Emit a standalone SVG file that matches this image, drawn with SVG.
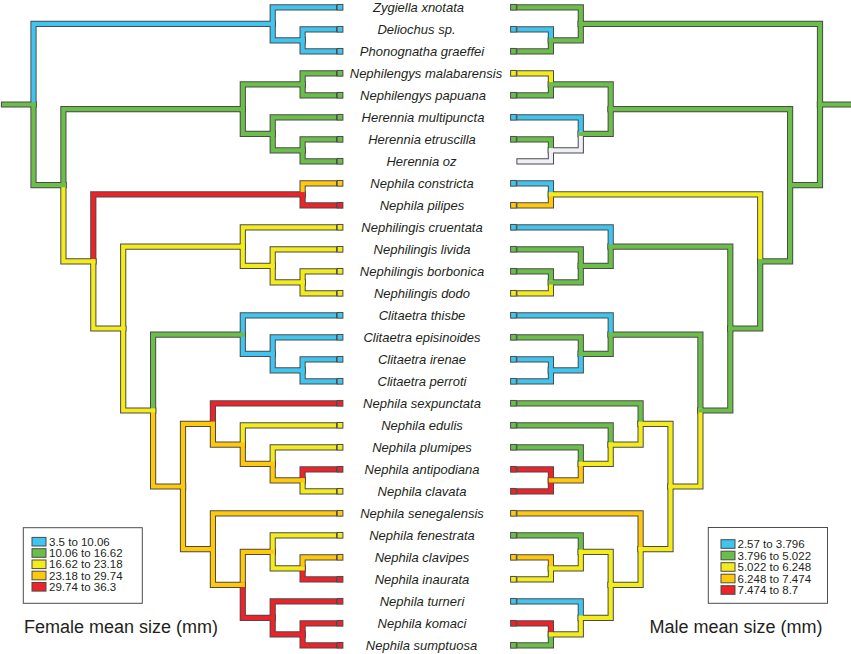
<svg xmlns="http://www.w3.org/2000/svg" xmlns:xlink="http://www.w3.org/1999/xlink" width="851" height="654" viewBox="0 0 851 654">
<style>
.ol{fill:none;stroke:#4a4a4a;stroke-width:6.2;stroke-linecap:square;stroke-linejoin:miter}
.c{fill:none;stroke-width:4.2;stroke-linecap:square;stroke-linejoin:miter}
.bl{stroke:#3fc5f0}.gr{stroke:#6cbe4a}.ye{stroke:#f4eb1a}.or{stroke:#ffc80a}.re{stroke:#ee2229}.wh{stroke:#eef0f6}
.s{stroke:#4a4a4a;stroke-width:1}
.fb{fill:#3fc5f0}.fg{fill:#6cbe4a}.fy{fill:#f4eb1a}.fo{fill:#ffc80a}.fr{fill:#ee2229}
.lab{font-family:"Liberation Sans",Arial,sans-serif;font-style:italic;font-size:13px;fill:#231f20;text-anchor:middle}
.leg{font-family:"Liberation Sans",Arial,sans-serif;font-size:11.5px;fill:#231f20}
.ttl{font-family:"Liberation Sans",Arial,sans-serif;font-size:18px;fill:#231f20}
.box{fill:#fff;stroke:#4d4d4d;stroke-width:1}
</style>
<defs>
<g id="tree">
<path id="b-root" d="M4 104.5H33.5"/>
<path id="b-A" d="M33.5 104.5V23.8H272.7"/>
<path id="b-Zyg" d="M272.7 23.8V7.3H334"/>
<path id="b-DP" d="M272.7 23.8V40.3H302.6"/>
<path id="b-Delio" d="M302.6 40.3V29.3H334"/>
<path id="b-Phono" d="M302.6 40.3V51.3H334"/>
<path id="b-N2" d="M33.5 104.5V185.2H63.4"/>
<path id="b-NH" d="M63.4 185.2V109.1H242.8"/>
<path id="b-NL" d="M242.8 109.1V84.3H302.6"/>
<path id="b-Nmal" d="M302.6 84.3V73.3H334"/>
<path id="b-Npap" d="M302.6 84.3V95.3H334"/>
<path id="b-HE" d="M242.8 109.1V133.8H272.7"/>
<path id="b-Hmult" d="M272.7 133.8V117.3H334"/>
<path id="b-HEO" d="M272.7 133.8V150.3H302.6"/>
<path id="b-Hetr" d="M302.6 150.3V139.3H334"/>
<path id="b-Hoz" d="M302.6 150.3V161.3H334"/>
<path id="b-R2" d="M63.4 185.2V261.4H93.3"/>
<path id="b-CP" d="M93.3 261.4V194.3H302.6"/>
<path id="b-constricta" d="M302.6 194.3V183.3H334"/>
<path id="b-pilipes" d="M302.6 194.3V205.3H334"/>
<path id="b-R3" d="M93.3 261.4V328.5H123.2"/>
<path id="b-NG" d="M123.2 328.5V246.6H242.8"/>
<path id="b-cruentata" d="M242.8 246.6V227.3H334"/>
<path id="b-NG2" d="M242.8 246.6V265.8H272.7"/>
<path id="b-livida" d="M272.7 265.8V249.3H334"/>
<path id="b-NG3" d="M272.7 265.8V282.3H302.6"/>
<path id="b-borbonica" d="M302.6 282.3V271.3H334"/>
<path id="b-dodo" d="M302.6 282.3V293.3H334"/>
<path id="b-CN" d="M123.2 328.5V410.5H153.1"/>
<path id="b-CL" d="M153.1 410.5V334.6H242.8"/>
<path id="b-thisbe" d="M242.8 334.6V315.3H334"/>
<path id="b-CL2" d="M242.8 334.6V353.8H272.7"/>
<path id="b-episinoides" d="M272.7 353.8V337.3H334"/>
<path id="b-CL3" d="M272.7 353.8V370.3H302.6"/>
<path id="b-irenae" d="M302.6 370.3V359.3H334"/>
<path id="b-perroti" d="M302.6 370.3V381.3H334"/>
<path id="b-NB" d="M153.1 410.5V486.5H183"/>
<path id="b-NS" d="M183 486.5V423.9H212.9"/>
<path id="b-sexpunctata" d="M212.9 423.9V403.3H334"/>
<path id="b-NS2" d="M212.9 423.9V444.6H242.8"/>
<path id="b-edulis" d="M242.8 444.6V425.3H334"/>
<path id="b-NS3" d="M242.8 444.6V463.8H272.7"/>
<path id="b-plumipes" d="M272.7 463.8V447.3H334"/>
<path id="b-AC" d="M272.7 463.8V480.3H302.6"/>
<path id="b-antipodiana" d="M302.6 480.3V469.3H334"/>
<path id="b-clavata" d="M302.6 480.3V491.3H334"/>
<path id="b-NF" d="M183 486.5V549.1H212.9"/>
<path id="b-senegalensis" d="M212.9 549.1V513.3H334"/>
<path id="b-NF2" d="M212.9 549.1V584.8H242.8"/>
<path id="b-NF3" d="M242.8 584.8V551.8H272.7"/>
<path id="b-fenestrata" d="M272.7 551.8V535.3H334"/>
<path id="b-NF4" d="M272.7 551.8V568.3H302.6"/>
<path id="b-clavipes" d="M302.6 568.3V557.3H334"/>
<path id="b-inaurata" d="M302.6 568.3V579.3H334"/>
<path id="b-NF5" d="M242.8 584.8V617.8H272.7"/>
<path id="b-turneri" d="M272.7 617.8V601.3H334"/>
<path id="b-NF6" d="M272.7 617.8V634.3H302.6"/>
<path id="b-komaci" d="M302.6 634.3V623.3H334"/>
<path id="b-sumptuosa" d="M302.6 634.3V645.3H334"/>
</g>
</defs>
<g id="connectors">
<g id="female-tree">
<use href="#tree" class="ol"/>
<use href="#b-Zyg" class="c bl"/><use href="#b-Delio" class="c bl"/><use href="#b-Phono" class="c bl"/><use href="#b-DP" class="c bl"/><use href="#b-A" class="c bl"/>
<use href="#b-Nmal" class="c gr"/><use href="#b-Npap" class="c gr"/><use href="#b-NL" class="c gr"/><use href="#b-Hmult" class="c gr"/><use href="#b-Hetr" class="c gr"/><use href="#b-Hoz" class="c gr"/><use href="#b-HEO" class="c gr"/><use href="#b-HE" class="c gr"/><use href="#b-NH" class="c gr"/>
<use href="#b-constricta" class="c or"/><use href="#b-pilipes" class="c re"/><use href="#b-CP" class="c re"/>
<use href="#b-cruentata" class="c ye"/><use href="#b-livida" class="c ye"/><use href="#b-borbonica" class="c ye"/><use href="#b-dodo" class="c ye"/><use href="#b-NG3" class="c ye"/><use href="#b-NG2" class="c ye"/><use href="#b-NG" class="c ye"/>
<use href="#b-thisbe" class="c bl"/><use href="#b-episinoides" class="c bl"/><use href="#b-irenae" class="c bl"/><use href="#b-perroti" class="c bl"/><use href="#b-CL3" class="c bl"/><use href="#b-CL2" class="c bl"/><use href="#b-CL" class="c gr"/>
<use href="#b-sexpunctata" class="c re"/><use href="#b-edulis" class="c ye"/><use href="#b-plumipes" class="c ye"/><use href="#b-antipodiana" class="c re"/><use href="#b-clavata" class="c ye"/><use href="#b-AC" class="c or"/><use href="#b-NS3" class="c or"/><use href="#b-NS2" class="c or"/><use href="#b-NS" class="c or"/>
<use href="#b-senegalensis" class="c or"/><use href="#b-fenestrata" class="c ye"/><use href="#b-clavipes" class="c or"/><use href="#b-inaurata" class="c re"/><use href="#b-NF4" class="c ye"/><use href="#b-NF3" class="c or"/><use href="#b-turneri" class="c re"/><use href="#b-komaci" class="c re"/><use href="#b-sumptuosa" class="c re"/><use href="#b-NF6" class="c re"/><use href="#b-NF5" class="c re"/><use href="#b-NF2" class="c or"/><use href="#b-NF" class="c or"/>
<use href="#b-NB" class="c or"/><use href="#b-CN" class="c ye"/><use href="#b-R3" class="c ye"/><use href="#b-R2" class="c ye"/><use href="#b-N2" class="c gr"/><use href="#b-root" class="c gr"/>
</g>
<g id="male-tree" transform="matrix(-1 0 0 1 853.5 0)">
<use href="#tree" class="ol"/>
<use href="#b-Zyg" class="c gr"/><use href="#b-Delio" class="c bl"/><use href="#b-Phono" class="c gr"/><use href="#b-DP" class="c gr"/><use href="#b-A" class="c gr"/>
<use href="#b-Nmal" class="c ye"/><use href="#b-Npap" class="c gr"/><use href="#b-NL" class="c gr"/><use href="#b-Hmult" class="c bl"/><use href="#b-Hetr" class="c gr"/><use href="#b-Hoz" class="c wh"/><use href="#b-HEO" class="c wh"/><use href="#b-HE" class="c gr"/><use href="#b-NH" class="c gr"/>
<use href="#b-constricta" class="c bl"/><use href="#b-pilipes" class="c or"/><use href="#b-CP" class="c ye"/>
<use href="#b-cruentata" class="c bl"/><use href="#b-livida" class="c gr"/><use href="#b-borbonica" class="c gr"/><use href="#b-dodo" class="c ye"/><use href="#b-NG3" class="c gr"/><use href="#b-NG2" class="c gr"/><use href="#b-NG" class="c gr"/>
<use href="#b-thisbe" class="c bl"/><use href="#b-episinoides" class="c gr"/><use href="#b-irenae" class="c bl"/><use href="#b-perroti" class="c bl"/><use href="#b-CL3" class="c bl"/><use href="#b-CL2" class="c gr"/><use href="#b-CL" class="c gr"/>
<use href="#b-sexpunctata" class="c gr"/><use href="#b-edulis" class="c gr"/><use href="#b-plumipes" class="c gr"/><use href="#b-antipodiana" class="c re"/><use href="#b-clavata" class="c re"/><use href="#b-AC" class="c or"/><use href="#b-NS3" class="c ye"/><use href="#b-NS2" class="c ye"/><use href="#b-NS" class="c ye"/>
<use href="#b-senegalensis" class="c or"/><use href="#b-fenestrata" class="c gr"/><use href="#b-clavipes" class="c or"/><use href="#b-inaurata" class="c ye"/><use href="#b-NF4" class="c ye"/><use href="#b-NF3" class="c ye"/><use href="#b-turneri" class="c bl"/><use href="#b-komaci" class="c re"/><use href="#b-sumptuosa" class="c gr"/><use href="#b-NF6" class="c ye"/><use href="#b-NF5" class="c ye"/><use href="#b-NF2" class="c ye"/><use href="#b-NF" class="c ye"/>
<use href="#b-NB" class="c ye"/><use href="#b-CN" class="c gr"/><use href="#b-R3" class="c gr"/><use href="#b-R2" class="c gr"/><use href="#b-N2" class="c gr"/><use href="#b-root" class="c gr"/>
</g>
</g>
<g id="taxa">
<g id="t-zygiella"><rect class="s fb" x="337.2" y="4.45" width="5.7" height="5.7"/><rect class="s fg" x="510.6" y="4.45" width="5.7" height="5.7"/><text class="lab" x="418.5" y="11.8">Zygiella xnotata</text></g>
<g id="t-deliochus"><rect class="s fb" x="337.2" y="26.45" width="5.7" height="5.7"/><rect class="s fb" x="510.6" y="26.45" width="5.7" height="5.7"/><text class="lab" x="416.5" y="33.8">Deliochus sp.</text></g>
<g id="t-phonognatha"><rect class="s fb" x="337.2" y="48.45" width="5.7" height="5.7"/><rect class="s fg" x="510.6" y="48.45" width="5.7" height="5.7"/><text class="lab" x="422" y="55.8">Phonognatha graeffei</text></g>
<g id="t-nmalabarensis"><rect class="s fg" x="337.2" y="70.45" width="5.7" height="5.7"/><rect class="s fy" x="510.6" y="70.45" width="5.7" height="5.7"/><text class="lab" x="426" y="77.8">Nephilengys malabarensis</text></g>
<g id="t-npapuana"><rect class="s fg" x="337.2" y="92.45" width="5.7" height="5.7"/><rect class="s fg" x="510.6" y="92.45" width="5.7" height="5.7"/><text class="lab" x="423" y="99.8">Nephilengys papuana</text></g>
<g id="t-hmultipuncta"><rect class="s fg" x="337.2" y="114.45" width="5.7" height="5.7"/><rect class="s fb" x="510.6" y="114.45" width="5.7" height="5.7"/><text class="lab" x="423" y="121.8">Herennia multipuncta</text></g>
<g id="t-hetruscilla"><rect class="s fg" x="337.2" y="136.45" width="5.7" height="5.7"/><rect class="s fg" x="510.6" y="136.45" width="5.7" height="5.7"/><text class="lab" x="422" y="143.8">Herennia etruscilla</text></g>
<g id="t-hoz"><rect class="s fg" x="337.2" y="158.45" width="5.7" height="5.7"/><text class="lab" x="421.5" y="165.8">Herennia oz</text></g>
<g id="t-nconstricta"><rect class="s fo" x="337.2" y="180.45" width="5.7" height="5.7"/><rect class="s fb" x="510.6" y="180.45" width="5.7" height="5.7"/><text class="lab" x="422" y="187.8">Nephila constricta</text></g>
<g id="t-npilipes"><rect class="s fr" x="337.2" y="202.45" width="5.7" height="5.7"/><rect class="s fo" x="510.6" y="202.45" width="5.7" height="5.7"/><text class="lab" x="422" y="209.8">Nephila pilipes</text></g>
<g id="t-ncruentata"><rect class="s fy" x="337.2" y="224.45" width="5.7" height="5.7"/><rect class="s fb" x="510.6" y="224.45" width="5.7" height="5.7"/><text class="lab" x="422" y="231.8">Nephilingis cruentata</text></g>
<g id="t-nlivida"><rect class="s fy" x="337.2" y="246.45" width="5.7" height="5.7"/><rect class="s fg" x="510.6" y="246.45" width="5.7" height="5.7"/><text class="lab" x="422" y="253.8">Nephilingis livida</text></g>
<g id="t-nborbonica"><rect class="s fy" x="337.2" y="268.45" width="5.7" height="5.7"/><rect class="s fg" x="510.6" y="268.45" width="5.7" height="5.7"/><text class="lab" x="422" y="275.8">Nephilingis borbonica</text></g>
<g id="t-ndodo"><rect class="s fy" x="337.2" y="290.45" width="5.7" height="5.7"/><rect class="s fy" x="510.6" y="290.45" width="5.7" height="5.7"/><text class="lab" x="422" y="297.8">Nephilingis dodo</text></g>
<g id="t-cthisbe"><rect class="s fb" x="337.2" y="312.45" width="5.7" height="5.7"/><rect class="s fb" x="510.6" y="312.45" width="5.7" height="5.7"/><text class="lab" x="422" y="319.8">Clitaetra thisbe</text></g>
<g id="t-cepisinoides"><rect class="s fb" x="337.2" y="334.45" width="5.7" height="5.7"/><rect class="s fg" x="510.6" y="334.45" width="5.7" height="5.7"/><text class="lab" x="422" y="341.8">Clitaetra episinoides</text></g>
<g id="t-cirenae"><rect class="s fb" x="337.2" y="356.45" width="5.7" height="5.7"/><rect class="s fb" x="510.6" y="356.45" width="5.7" height="5.7"/><text class="lab" x="422" y="363.8">Clitaetra irenae</text></g>
<g id="t-cperroti"><rect class="s fb" x="337.2" y="378.45" width="5.7" height="5.7"/><rect class="s fb" x="510.6" y="378.45" width="5.7" height="5.7"/><text class="lab" x="422" y="385.8">Clitaetra perroti</text></g>
<g id="t-nsexpunctata"><rect class="s fr" x="337.2" y="400.45" width="5.7" height="5.7"/><rect class="s fg" x="510.6" y="400.45" width="5.7" height="5.7"/><text class="lab" x="422" y="407.8">Nephila sexpunctata</text></g>
<g id="t-nedulis"><rect class="s fy" x="337.2" y="422.45" width="5.7" height="5.7"/><rect class="s fg" x="510.6" y="422.45" width="5.7" height="5.7"/><text class="lab" x="422" y="429.8">Nephila edulis</text></g>
<g id="t-nplumipes"><rect class="s fy" x="337.2" y="444.45" width="5.7" height="5.7"/><rect class="s fg" x="510.6" y="444.45" width="5.7" height="5.7"/><text class="lab" x="422" y="451.8">Nephila plumipes</text></g>
<g id="t-nantipodiana"><rect class="s fr" x="337.2" y="466.45" width="5.7" height="5.7"/><rect class="s fr" x="510.6" y="466.45" width="5.7" height="5.7"/><text class="lab" x="422" y="473.8">Nephila antipodiana</text></g>
<g id="t-nclavata"><rect class="s fy" x="337.2" y="488.45" width="5.7" height="5.7"/><rect class="s fr" x="510.6" y="488.45" width="5.7" height="5.7"/><text class="lab" x="422" y="495.8">Nephila clavata</text></g>
<g id="t-nsenegalensis"><rect class="s fo" x="337.2" y="510.45" width="5.7" height="5.7"/><rect class="s fo" x="510.6" y="510.45" width="5.7" height="5.7"/><text class="lab" x="422" y="517.8">Nephila senegalensis</text></g>
<g id="t-nfenestrata"><rect class="s fy" x="337.2" y="532.45" width="5.7" height="5.7"/><rect class="s fg" x="510.6" y="532.45" width="5.7" height="5.7"/><text class="lab" x="422" y="539.8">Nephila fenestrata</text></g>
<g id="t-nclavipes"><rect class="s fo" x="337.2" y="554.45" width="5.7" height="5.7"/><rect class="s fo" x="510.6" y="554.45" width="5.7" height="5.7"/><text class="lab" x="422" y="561.8">Nephila clavipes</text></g>
<g id="t-ninaurata"><rect class="s fr" x="337.2" y="576.45" width="5.7" height="5.7"/><rect class="s fy" x="510.6" y="576.45" width="5.7" height="5.7"/><text class="lab" x="422" y="583.8">Nephila inaurata</text></g>
<g id="t-nturneri"><rect class="s fr" x="337.2" y="598.45" width="5.7" height="5.7"/><rect class="s fb" x="510.6" y="598.45" width="5.7" height="5.7"/><text class="lab" x="422" y="605.8">Nephila turneri</text></g>
<g id="t-nkomaci"><rect class="s fr" x="337.2" y="620.45" width="5.7" height="5.7"/><rect class="s fr" x="510.6" y="620.45" width="5.7" height="5.7"/><text class="lab" x="422" y="627.8">Nephila komaci</text></g>
<g id="t-nsumptuosa"><rect class="s fr" x="337.2" y="642.45" width="5.7" height="5.7"/><rect class="s fg" x="510.6" y="642.45" width="5.7" height="5.7"/><text class="lab" x="421.5" y="649.8">Nephila sumptuosa</text></g>
</g>
<g id="legend-female">
<rect class="box" x="23.3" y="527.7" width="119" height="75.6"/>
<rect class="s fb" x="32" y="537.4" width="14" height="8.6"/><text class="leg" x="49" y="545.7">3.5 to 10.06</text>
<rect class="s fg" x="32" y="548.7" width="14" height="8.6"/><text class="leg" x="49" y="557">10.06 to 16.62</text>
<rect class="s fy" x="32" y="560" width="14" height="8.6"/><text class="leg" x="49" y="568.3">16.62 to 23.18</text>
<rect class="s fo" x="32" y="571.2" width="14" height="8.6"/><text class="leg" x="49" y="579.5">23.18 to 29.74</text>
<rect class="s fr" x="32" y="582.5" width="14" height="8.6"/><text class="leg" x="49" y="590.8">29.74 to 36.3</text>
</g>
<g id="legend-male">
<rect class="box" x="708.3" y="527.5" width="119.2" height="75.8"/>
<rect class="s fb" x="721" y="539.7" width="14" height="8.6"/><text class="leg" x="737.5" y="548">2.57 to 3.796</text>
<rect class="s fg" x="721" y="551.2" width="14" height="8.6"/><text class="leg" x="737.5" y="559.5">3.796 to 5.022</text>
<rect class="s fy" x="721" y="562.7" width="14" height="8.6"/><text class="leg" x="737.5" y="571">5.022 to 6.248</text>
<rect class="s fo" x="721" y="574.2" width="14" height="8.6"/><text class="leg" x="737.5" y="582.5">6.248 to 7.474</text>
<rect class="s fr" x="721" y="585.7" width="14" height="8.6"/><text class="leg" x="737.5" y="594">7.474 to 8.7</text>
</g>
<text id="title-female" class="ttl" x="24" y="633">Female mean size (mm)</text>
<text id="title-male" class="ttl" x="649.5" y="633">Male mean size (mm)</text>
</svg>
